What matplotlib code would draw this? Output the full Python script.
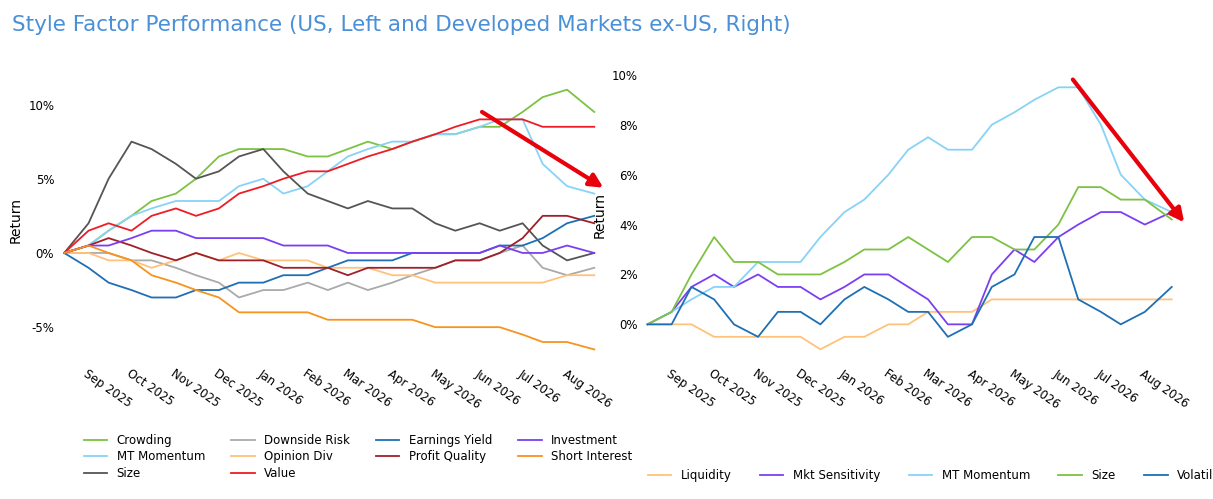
import numpy as np
import pandas as pd
from matplotlib import pyplot as plt
import matplotlib.dates as mdates
from matplotlib.ticker import FuncFormatter

# semi-monthly sample dates
dates = pd.to_datetime([
    '2025-08-15', '2025-09-01', '2025-09-15', '2025-10-01', '2025-10-15',
    '2025-11-01', '2025-11-15', '2025-12-01', '2025-12-15', '2026-01-01',
    '2026-01-15', '2026-02-01', '2026-02-15', '2026-03-01', '2026-03-15',
    '2026-04-01', '2026-04-15', '2026-05-01', '2026-05-15', '2026-06-01',
    '2026-06-15', '2026-07-01', '2026-07-15', '2026-08-01', '2026-08-20'])

# US (left), returns in %
us_crowding = [0, 0.5, 1.5, 2.5, 3.5, 4, 5, 6.5, 7, 7, 7, 6.5, 6.5, 7, 7.5, 7, 7.5, 8, 8, 8.5, 8.5, 9.5, 10.5, 11, 9.5]
us_downside = [0, 0, 0, -0.5, -0.5, -1, -1.5, -2, -3, -2.5, -2.5, -2, -2.5, -2, -2.5, -2, -1.5, -1, -0.5, -0.5, 0, 0.5, -1, -1.5, -1]
us_earnings = [0, -1, -2, -2.5, -3, -3, -2.5, -2.5, -2, -2, -1.5, -1.5, -1, -0.5, -0.5, -0.5, 0, 0, 0, 0, 0.5, 0.5, 1, 2, 2.5]
us_invest = [0, 0.5, 0.5, 1, 1.5, 1.5, 1, 1, 1, 1, 0.5, 0.5, 0.5, 0, 0, 0, 0, 0, 0, 0, 0.5, 0, 0, 0.5, 0]
us_momentum = [0, 0.5, 1.5, 2.5, 3, 3.5, 3.5, 3.5, 4.5, 5, 4, 4.5, 5.5, 6.5, 7, 7.5, 7.5, 8, 8, 8.5, 9, 9, 6, 4.5, 4]
us_opinion = [0, 0, -0.5, -0.5, -1, -0.5, 0, -0.5, 0, -0.5, -0.5, -0.5, -1, -1, -1, -1.5, -1.5, -2, -2, -2, -2, -2, -2, -1.5, -1.5]
us_quality = [0, 0.5, 1, 0.5, 0, -0.5, 0, -0.5, -0.5, -0.5, -1, -1, -1, -1.5, -1, -1, -1, -1, -0.5, -0.5, 0, 1, 2.5, 2.5, 2]
us_short = [0, 0.5, 0, -0.5, -1.5, -2, -2.5, -3, -4, -4, -4, -4, -4.5, -4.5, -4.5, -4.5, -4.5, -5, -5, -5, -5, -5.5, -6, -6, -6.5]
us_size = [0, 2, 5, 7.5, 7, 6, 5, 5.5, 6.5, 7, 5.5, 4, 3.5, 3, 3.5, 3, 3, 2, 1.5, 2, 1.5, 2, 0.5, -0.5, 0]
us_value = [0, 1.5, 2, 1.5, 2.5, 3, 2.5, 3, 4, 4.5, 5, 5.5, 5.5, 6, 6.5, 7, 7.5, 8, 8.5, 9, 9, 9, 8.5, 8.5, 8.5]

# Developed ex-US (right)
dx_liquidity = [0, 0, 0, -0.5, -0.5, -0.5, -0.5, -0.5, -1, -0.5, -0.5, 0, 0, 0.5, 0.5, 0.5, 1, 1, 1, 1, 1, 1, 1, 1, 1]
dx_mktsens = [0, 0.5, 1.5, 2, 1.5, 2, 1.5, 1.5, 1, 1.5, 2, 2, 1.5, 1, 0, 0, 2, 3, 2.5, 3.5, 4, 4.5, 4.5, 4, 4.5]
dx_momentum = [0, 0.5, 1, 1.5, 1.5, 2.5, 2.5, 2.5, 3.5, 4.5, 5, 6, 7, 7.5, 7, 7, 8, 8.5, 9, 9.5, 9.5, 8, 6, 5, 4.5]
dx_size = [0, 0.5, 2, 3.5, 2.5, 2.5, 2, 2, 2, 2.5, 3, 3, 3.5, 3, 2.5, 3.5, 3.5, 3, 3, 4, 5.5, 5.5, 5, 5, 4.2]
dx_volatility = [0, 0, 1.5, 1, 0, -0.5, 0.5, 0.5, 0, 1, 1.5, 1, 0.5, 0.5, -0.5, 0, 1.5, 2, 3.5, 3.5, 1, 0.5, 0, 0.5, 1.5]

# ordered column by column so the legend reads row-wise alphabetically
left_series = [
    ('Crowding', us_crowding, '#7dc242'),
    ('MT Momentum', us_momentum, '#87d3f8'),
    ('Size', us_size, '#555555'),
    ('Downside Risk', us_downside, '#aaaaaa'),
    ('Opinion Div', us_opinion, '#ffc27a'),
    ('Value', us_value, '#ee1c25'),
    ('Earnings Yield', us_earnings, '#1f6fb4'),
    ('Profit Quality', us_quality, '#a0202a'),
    ('Investment', us_invest, '#7b3ff2'),
    ('Short Interest', us_short, '#f7931e'),
]
right_series = [
    ('Liquidity', dx_liquidity, '#ffc27a'),
    ('Mkt Sensitivity', dx_mktsens, '#7b3ff2'),
    ('MT Momentum', dx_momentum, '#87d3f8'),
    ('Size', dx_size, '#7dc242'),
    ('Volatility', dx_volatility, '#1f6fb4'),
]


def style_axes(ax, ylim):
    for s in ax.spines.values():
        s.set_visible(False)
    ax.set_ylim(*ylim)
    ax.set_xlim(pd.Timestamp('2025-08-10'), pd.Timestamp('2026-08-26'))
    ax.xaxis.set_major_locator(mdates.MonthLocator())
    ax.xaxis.set_major_formatter(mdates.DateFormatter('%b %Y'))
    ax.yaxis.set_major_formatter(FuncFormatter(lambda v, p: f'{v:.0f}%'))
    ax.tick_params(length=0, labelsize=8.5, pad=2)
    for lbl in ax.get_xticklabels():
        lbl.set_rotation(-35)
        lbl.set_ha('left')
        lbl.set_rotation_mode('anchor')
    ax.set_ylabel('Return', fontsize=10)


def main():
    fig = plt.figure(figsize=(12.13, 4.99), dpi=100)
    fig.text(0.01, 0.95, 'Style Factor Performance (US, Left and Developed Markets ex-US, Right)',
             fontsize=15.5, color='#4a90d9', va='center')

    ax1 = fig.add_axes([0.047, 0.27, 0.45, 0.58])
    for name, vals, c in left_series:
        ax1.plot(dates, vals, color=c, lw=1.3, label=name)
    ax1.set_yticks([-5, 0, 5, 10])
    style_axes(ax1, (-7.5, 12))
    ax1.annotate('', xy=(pd.Timestamp('2026-08-28'), 4.3), xytext=(pd.Timestamp('2026-06-01'), 9.6),
                 arrowprops=dict(arrowstyle='-|>', color='#e8000b', lw=3, mutation_scale=20),
                 annotation_clip=False)
    ax1.legend(loc='upper left', bbox_to_anchor=(0.065, 0.14), bbox_transform=fig.transFigure,
               ncol=4, frameon=False, fontsize=8.5, handlelength=2, columnspacing=2.2,
               labelspacing=0.3, borderaxespad=0)

    ax2 = fig.add_axes([0.528, 0.27, 0.445, 0.60])
    for name, vals, c in right_series:
        ax2.plot(dates, vals, color=c, lw=1.3, label=name)
    ax2.set_yticks([0, 2, 4, 6, 8, 10])
    style_axes(ax2, (-1.6, 10.4))
    ax2.annotate('', xy=(pd.Timestamp('2026-08-30'), 4.0), xytext=(pd.Timestamp('2026-06-10'), 9.9),
                 arrowprops=dict(arrowstyle='-|>', color='#e8000b', lw=3, mutation_scale=20),
                 annotation_clip=False)
    ax2.legend(loc='upper left', bbox_to_anchor=(0.53, 0.07), bbox_transform=fig.transFigure,
               ncol=5, frameon=False, fontsize=8.5, handlelength=2, columnspacing=2.4,
               borderaxespad=0)

    fig.savefig('out.png', dpi=100)


if __name__ == '__main__':
    main()
